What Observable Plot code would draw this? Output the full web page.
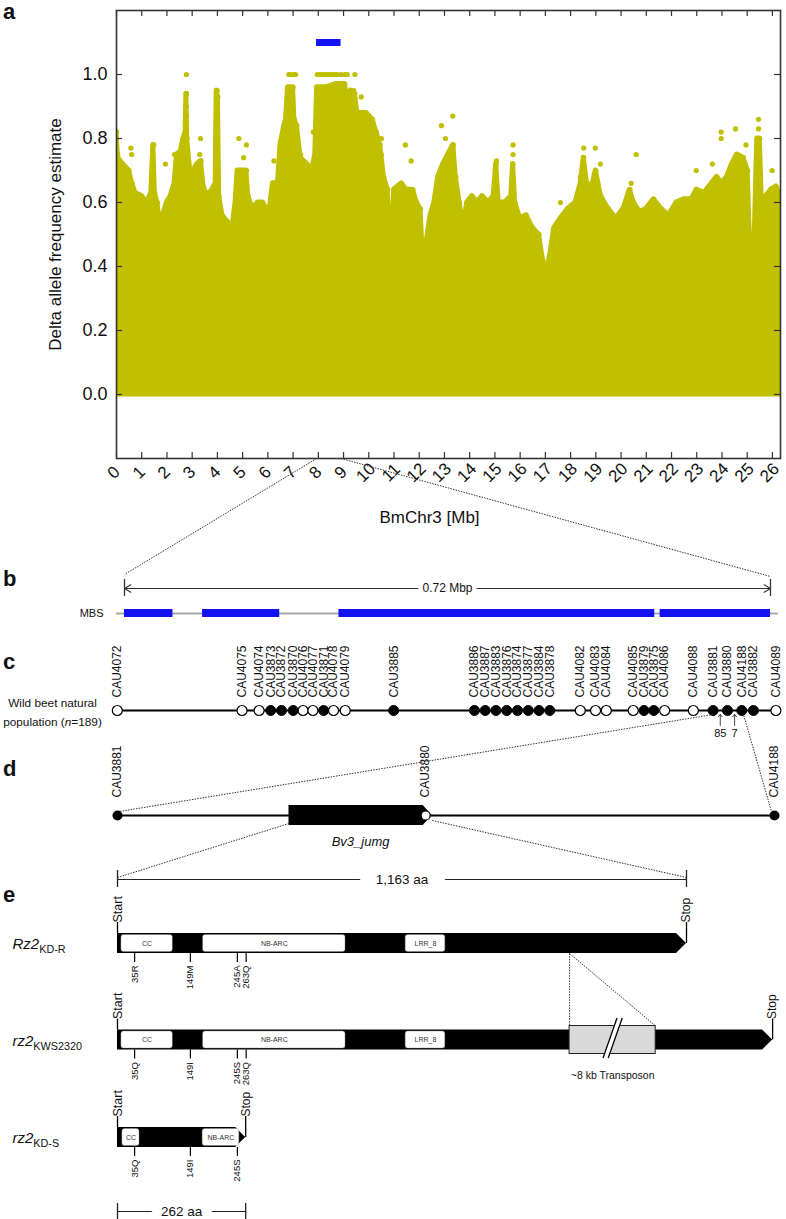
<!DOCTYPE html>
<html><head><meta charset="utf-8">
<script src="https://cdn.jsdelivr.net/npm/d3@7"></script>
<script src="https://cdn.jsdelivr.net/npm/@observablehq/plot@0.6"></script>
<style>
html,body{margin:0;padding:0;background:#fff;}
#fig{position:relative;width:786px;height:1219px;overflow:hidden;font-family:"Liberation Sans",Arial,Helvetica,sans-serif;}
.letter{position:absolute;left:3px;font-weight:bold;font-size:22px;line-height:16px;color:#111;}
</style></head><body><div id="fig"></div>
<script>
// ---------------- DATA ----------------
// Panel a: delta allele frequency along BmChr3
const chrLengthMb = 26.32;
const xTickMb = [0,1,2,3,4,5,6,7,8,9,10,11,12,13,14,15,16,17,18,19,20,21,22,23,24,25,26];
const yTickAF = [0, 0.2, 0.4, 0.6, 0.8, 1.0];
const candidateRegionMb = [7.93, 8.9];
// upper envelope of the dense SNP cloud [Mb, delta AF]
const afEnvelope = [
[0.0,0.82],[0.06,0.74],[0.25,0.72],[0.5,0.70],[0.62,0.66],[0.75,0.63],[1.0,0.62],[1.2,0.60],[1.38,0.63],[1.46,0.78],[1.52,0.63],[1.62,0.60],[1.75,0.52],[1.85,0.56],[2.0,0.60],[2.15,0.62],[2.3,0.66],[2.4,0.75],[2.55,0.76],[2.65,0.80],[2.74,0.82],[2.77,0.94],[2.8,0.80],[2.92,0.70],[3.05,0.70],[3.2,0.72],[3.35,0.73],[3.45,0.65],[3.6,0.62],[3.8,0.64],[3.93,0.66],[3.97,0.95],[4.02,0.93],[4.07,0.62],[4.2,0.56],[4.4,0.54],[4.5,0.46],[4.6,0.52],[4.72,0.60],[4.8,0.70],[5.0,0.70],[5.15,0.70],[5.22,0.62],[5.4,0.58],[5.6,0.60],[5.8,0.60],[5.95,0.58],[6.0,0.44],[6.08,0.58],[6.2,0.66],[6.4,0.66],[6.5,0.78],[6.65,0.84],[6.72,0.86],[6.8,0.96],[7.0,0.96],[7.05,0.86],[7.15,0.84],[7.3,0.74],[7.55,0.72],[7.75,0.70],[7.88,0.75],[7.95,0.96],[8.3,0.96],[8.7,0.97],[9.05,0.97],[9.15,0.93],[9.3,0.95],[9.45,0.94],[9.55,0.88],[9.9,0.88],[10.15,0.86],[10.3,0.82],[10.45,0.78],[10.6,0.68],[10.75,0.64],[10.85,0.50],[10.95,0.45],[11.0,0.64],[11.3,0.66],[11.5,0.64],[11.75,0.64],[11.9,0.60],[12.05,0.58],[12.15,0.42],[12.3,0.48],[12.45,0.56],[12.6,0.60],[12.75,0.68],[12.95,0.72],[13.15,0.75],[13.35,0.78],[13.45,0.68],[13.6,0.60],[13.75,0.52],[13.9,0.60],[14.1,0.62],[14.3,0.60],[14.5,0.62],[14.75,0.60],[14.95,0.62],[15.05,0.72],[15.15,0.60],[15.4,0.60],[15.65,0.62],[15.72,0.72],[15.8,0.60],[16.0,0.55],[16.25,0.56],[16.5,0.52],[16.75,0.50],[16.9,0.42],[17.05,0.38],[17.2,0.44],[17.35,0.52],[17.6,0.55],[17.9,0.58],[18.2,0.60],[18.4,0.66],[18.52,0.74],[18.65,0.66],[18.85,0.65],[19.0,0.70],[19.2,0.62],[19.5,0.58],[19.8,0.55],[20.1,0.58],[20.35,0.64],[20.5,0.60],[20.75,0.57],[21.0,0.58],[21.3,0.61],[21.6,0.58],[21.9,0.56],[22.2,0.60],[22.5,0.61],[22.8,0.61],[23.0,0.64],[23.3,0.63],[23.6,0.66],[23.8,0.68],[24.0,0.66],[24.2,0.68],[24.4,0.72],[24.6,0.75],[24.85,0.74],[25.02,0.70],[25.12,0.45],[25.3,0.50],[25.4,0.80],[25.5,0.80],[25.58,0.60],[25.75,0.62],[25.95,0.64],[26.15,0.65],[26.32,0.62]
];
// isolated SNPs above the cloud [Mb, delta AF]
const afOutliers = [
[0.0,0.82],[0.05,0.75],[0.57,0.77],[0.6,0.75],[1.48,0.78],[1.94,0.72],[2.3,0.75],[2.77,1.0],[2.77,0.94],[2.77,0.9],[2.77,0.87],[3.33,0.8],[3.3,0.75],[3.99,0.95],[3.99,0.92],[4.85,0.8],[5.15,0.78],[5.04,0.74],[6.24,0.73],[6.77,0.9],[6.83,1.0],[6.9,1.0],[7.03,1.0],[7.1,1.0],[7.3,0.75],[7.8,0.82],[7.96,1.0],[8.05,1.0],[8.15,1.0],[8.25,1.0],[8.35,1.0],[8.45,1.0],[8.55,1.0],[8.65,1.0],[8.75,1.0],[8.9,1.0],[9.05,1.0],[9.15,1.0],[9.45,1.0],[9.4,0.95],[9.7,0.93],[10.5,0.8],[10.5,0.75],[11.45,0.78],[11.68,0.73],[12.88,0.84],[13.04,0.8],[13.33,0.87],[15.06,0.73],[15.72,0.78],[15.72,0.75],[17.6,0.6],[18.39,0.68],[18.52,0.77],[18.98,0.77],[19.18,0.72],[20.4,0.66],[20.6,0.75],[22.98,0.7],[23.62,0.72],[23.97,0.82],[23.97,0.8],[24.54,0.83],[24.95,0.78],[25.45,0.86],[25.45,0.83],[25.99,0.7]
];

// Panel b: MBS
const mbsLengthKb = 720;
const mbsBlocksKb = [[0,54],[87,173],[239,591],[597,720]];
const mapSpanKb = [-9, 729];

// Panel c: markers in wild beet population
const markerNames = ["CAU4072","CAU4075","CAU4074","CAU3873","CAU3872","CAU3870","CAU4076","CAU4077","CAU3871","CAU4078","CAU4079","CAU3885","CAU3886","CAU3887","CAU3883","CAU3876","CAU3874","CAU3877","CAU3884","CAU3878","CAU4082","CAU4083","CAU4084","CAU4085","CAU3879","CAU3875","CAU4086","CAU4088","CAU3881","CAU3880","CAU4188","CAU3882","CAU4089"];
const markerPosKb = [-8,131,150,163,175,188,199,210,222,233,246,300,390,402,414,426,438,450,462,474,508,525,537,567,579,590,602,634,656,672,688,701,726];
const markerAssociated = [0,0,0,1,1,1,0,0,1,0,0,1,1,1,1,1,1,1,1,1,0,0,0,0,1,1,0,0,1,1,1,1,0];
const recombCounts = [85, 7];
const recombBetween = [["CAU3881","CAU3880"],["CAU3880","CAU4188"]];
const populationLabel = ["Wild beet natural", "population (*n*=189)"];

// Panel d: interval CAU3881–CAU4188 (relative position)
const intervalMarkers = ["CAU3881","CAU3880","CAU4188"];
const intervalPos = [0, 0.469, 1];
const intervalFilled = [1, 0, 1];
const geneName = "Bv3_jumg";
const geneSpan = [0.261, 0.479];

// Panel e: proteins (aa)
const proteinLabels = ["*Rz2*_{KD-R}", "*rz2*_{KWS2320}", "*rz2*_{KD-S}"];
const proteinLengthAa = [1163, 1163, 262];
const proteinDomains = [
  {row:0, name:"CC", start:8, end:113},{row:0, name:"NB-ARC", start:175, end:466},{row:0, name:"LRR_8", start:589, end:670},
  {row:1, name:"CC", start:8, end:113},{row:1, name:"NB-ARC", start:175, end:466},{row:1, name:"LRR_8", start:589, end:670},
  {row:2, name:"CC", start:10, end:45},{row:2, name:"NB-ARC", start:174, end:249}
];
const variantPosAa = [35, 149, 245, 263];
const variantLabels = [["35R","149M","245A","263Q"],["35Q","149I","245S","263Q"],["35Q","149I","245S"]];
const transposonInsertAa = 924;
const transposonDrawnAa = 176;
const transposonLabel = "~8 kb Transposon";

// ---------------- LAYOUT / STYLE ----------------
const FONT = '"Liberation Sans", Arial, Helvetica, sans-serif';
const OLIVE = "#c0bf00", BLUE = "#1212f2", INK = "#111";
const baseStyle = {fontFamily: FONT, background: "transparent", overflow: "visible"};
const PB_TOP = 545, PD_TOP = 745, PE_TOP = 855;
const LB = {arrow: 43, mbs: 68, labelBase: 152, line: 165, arrowTip: 169, arrowTail: 180, count: 188, pop1: 158, pop2: 177};
const LD = {line: 70, labelBase: 52, geneText: 96};
const LE = {scaleTop: 24, rows: [88, 184.5, 282], scaleBottom: 356};
const E_LEFT = 117, E_RIGHT = 686;

function richText(svg) {
  svg.querySelectorAll("text").forEach(t => {
    const s = t.textContent;
    if (!s.includes("*") && !s.includes("_{")) return;
    t.textContent = "";
    const re = /\*([^*]+)\*|_\{([^}]+)\}|([^*_]+|_)/g;
    let m;
    while ((m = re.exec(s))) {
      const ts = document.createElementNS("http://www.w3.org/2000/svg", "tspan");
      if (m[1] !== undefined) { ts.textContent = m[1]; ts.setAttribute("font-style", "italic"); }
      else if (m[2] !== undefined) { ts.textContent = m[2]; ts.setAttribute("font-size", "72%"); ts.setAttribute("dy", "0.35em"); }
      else ts.textContent = m[3];
      t.appendChild(ts);
    }
  });
}
const fig = document.getElementById("fig");
function place(svg, top, z) {
  svg.style.position = "absolute"; svg.style.left = "0px"; svg.style.top = top + "px";
  if (z) { svg.style.zIndex = z; svg.style.pointerEvents = "none"; }
  richText(svg);
  fig.appendChild(svg);
  return svg;
}

// ---------------- PANEL A ----------------
const PA = Plot.plot({
  width: 786, height: 545, marginTop: 10, marginBottom: 87, marginLeft: 116, marginRight: 6,
  x: {domain: [0, chrLengthMb], axis: null},
  y: {domain: [-0.2, 1.2], axis: null},
  style: baseStyle,
  marks: [
    Plot.areaY(afEnvelope, {x: d => d[0], y1: 0, y2: d => d[1], fill: OLIVE, stroke: OLIVE, strokeWidth: 5, strokeLinejoin: "round", clip: true}),
    Plot.dot(afEnvelope, {x: d => d[0], y: d => d[1], r: 2.6, fill: OLIVE, clip: true}),
    Plot.dot(afOutliers, {x: d => d[0], y: d => d[1], r: 2.6, fill: OLIVE, clip: true}),
    Plot.ruleY([1.1], {x1: candidateRegionMb[0], x2: candidateRegionMb[1], stroke: BLUE, strokeWidth: 7}),
    Plot.frame({stroke: "#333", strokeWidth: 1.6}),
    Plot.tickX(xTickMb, {x: d => d, insetTop: 442, stroke: "#333", strokeWidth: 1.2}),
    Plot.tickX(xTickMb, {x: d => d, insetBottom: 442, stroke: "#333", strokeWidth: 1.2}),
    Plot.tickY(yTickAF, {y: d => d, insetRight: 658, stroke: "#333", strokeWidth: 1.2}),
    Plot.tickY(yTickAF, {y: d => d, insetLeft: 658, stroke: "#333", strokeWidth: 1.2}),
    Plot.text(xTickMb, {x: d => d, frameAnchor: "bottom", dy: 18, dx: 1, rotate: -45, textAnchor: "middle", text: d => String(d), fontSize: 17, fill: INK}),
    Plot.text(yTickAF, {y: d => d, frameAnchor: "left", dx: -9, textAnchor: "end", text: d => d.toFixed(1), fontSize: 18, fill: INK}),
    Plot.text(["Delta allele frequency estimate"], {frameAnchor: "left", dx: -61, rotate: -90, textAnchor: "middle", fontSize: 17, fill: INK}),
    Plot.text(["BmChr3 [Mb]"], {frameAnchor: "bottom", dy: 64, dx: -19, textAnchor: "middle", fontSize: 17, fill: INK})
  ]
});
place(PA, 0);

// ---------------- PANELS B + C ----------------
const posOf = n => markerPosKb[markerNames.indexOf(n)];
const markers = markerNames.map((name, i) => ({name, pos: markerPosKb[i], assoc: markerAssociated[i]}));
const recomb = recombCounts.map((c, i) => ({count: c, x: (posOf(recombBetween[i][0]) + posOf(recombBetween[i][1])) / 2}));
const midKb = mbsLengthKb / 2;
const PB = Plot.plot({
  width: 786, height: 200, marginLeft: 124, marginRight: 16, marginTop: 0, marginBottom: 0,
  x: {domain: [0, mbsLengthKb], axis: null}, y: {type: "identity", axis: null},
  style: baseStyle,
  marks: [
    Plot.ruleY([LB.mbs], {x1: mapSpanKb[0], x2: mapSpanKb[1], stroke: "#a9a9a9", strokeWidth: 2}),
    Plot.rect(mbsBlocksKb, {x1: d => d[0], x2: d => d[1], y1: LB.mbs - 4, y2: LB.mbs + 4, fill: BLUE}),
    Plot.text(["MBS"], {frameAnchor: "left", y: LB.mbs, dx: -21, textAnchor: "end", fontSize: 11, fill: INK}),
    Plot.ruleX([0, mbsLengthKb], {y1: LB.arrow - 9, y2: LB.arrow + 8, stroke: "#333", strokeWidth: 1.3}),
    Plot.arrow([0, mbsLengthKb], {x1: midKb, x2: d => d, y1: LB.arrow, y2: LB.arrow, stroke: "#333", strokeWidth: 1.1, headLength: 10, headAngle: 60}),
    Plot.text([`${(mbsLengthKb / 1000).toFixed(2)} Mbp`], {x: midKb, y: LB.arrow, fontSize: 12, fill: INK, stroke: "white", strokeWidth: 9, paintOrder: "stroke"}),
    Plot.ruleY([LB.line], {x1: markerPosKb[0], x2: markerPosKb[markerPosKb.length - 1], stroke: "black", strokeWidth: 2}),
    Plot.dot(markers.filter(d => !d.assoc), {x: "pos", y: LB.line, r: 5, fill: "white", stroke: "black", strokeWidth: 1.2}),
    Plot.dot(markers.filter(d => d.assoc), {x: "pos", y: LB.line, r: 5, fill: "black", stroke: "black", strokeWidth: 1}),
    Plot.text(markers, {x: "pos", y: LB.labelBase, text: "name", rotate: -90, textAnchor: "start", fontSize: 12, fill: INK}),
    Plot.arrow(recomb, {x1: "x", x2: "x", y1: LB.arrowTail, y2: LB.arrowTip, stroke: "#333", strokeWidth: 0.9, headLength: 5, headAngle: 80}),
    Plot.text(recomb, {x: "x", y: LB.count, text: d => String(d.count), fontSize: 11, fill: INK}),
    Plot.text([populationLabel[0]], {frameAnchor: "left", y: LB.pop1, dx: -72, textAnchor: "middle", fontSize: 11.8, fill: INK}),
    Plot.text([populationLabel[1]], {frameAnchor: "left", y: LB.pop2, dx: -72, textAnchor: "middle", fontSize: 11.8, fill: INK})
  ]
});
place(PB, PB_TOP);

// ---------------- PANEL D ----------------
const dWidthPx = 786 - 117 - 12;
const headFrac = 9 / dWidthPx;
const geneShape = [
  {x: geneSpan[0], y1: LD.line - 10, y2: LD.line + 10},
  {x: geneSpan[1] - headFrac, y1: LD.line - 10, y2: LD.line + 10},
  {x: geneSpan[1], y1: LD.line, y2: LD.line}
];
const dMarkers = intervalMarkers.map((name, i) => ({name, pos: intervalPos[i], filled: intervalFilled[i]}));
const PD = Plot.plot({
  width: 786, height: 110, marginLeft: 117, marginRight: 12, marginTop: 0, marginBottom: 0,
  x: {domain: [0, 1], axis: null}, y: {type: "identity", axis: null},
  style: baseStyle,
  marks: [
    Plot.ruleY([LD.line], {x1: 0, x2: 1, stroke: "black", strokeWidth: 2}),
    Plot.areaY(geneShape, {x: "x", y1: "y1", y2: "y2", fill: "black"}),
    Plot.dot(dMarkers.filter(d => d.filled), {x: "pos", y: LD.line, r: 5, fill: "black"}),
    Plot.dot(dMarkers.filter(d => !d.filled), {x: "pos", y: LD.line, r: 4.5, fill: "white", stroke: "black", strokeWidth: 1.2}),
    Plot.text(dMarkers, {x: "pos", y: LD.labelBase, text: "name", rotate: -90, textAnchor: "start", fontSize: 12, fill: INK}),
    Plot.text([geneName], {x: (geneSpan[0] + geneSpan[1]) / 2, y: LD.geneText, fontSize: 13, fontStyle: "italic", fill: INK})
  ]
});
place(PD, PD_TOP);

// ---------------- PANEL E ----------------
const ePxPerAa = (E_RIGHT - E_LEFT) / proteinLengthAa[0];
const shiftAa = (aa, px) => aa + px / ePxPerAa;
const rowY = LE.rows;
const rowTip = [proteinLengthAa[0], proteinLengthAa[1] + transposonDrawnAa, proteinLengthAa[2]];
const barPts = rowTip.flatMap((tip, r) => [
  {r, x: 0, y1: rowY[r] - 10, y2: rowY[r] + 10},
  {r, x: shiftAa(tip, -10), y1: rowY[r] - 10, y2: rowY[r] + 10},
  {r, x: tip, y1: rowY[r], y2: rowY[r]}
]);
const variants = variantLabels.flatMap((labs, r) => labs.map((label, j) => ({r, pos: variantPosAa[j], label})));
const tStart = transposonInsertAa, tEnd = transposonInsertAa + transposonDrawnAa;
const tMid = (tStart + tEnd) / 2;
const c2 = rowY[1];
const slash = [{x1: shiftAa(tMid, -7), y1: c2 + 18, x2: shiftAa(tMid, 7), y2: c2 - 22}];
const PE = Plot.plot({
  width: 786, height: 364, marginLeft: E_LEFT, marginRight: 786 - E_RIGHT, marginTop: 0, marginBottom: 0,
  x: {domain: [0, proteinLengthAa[0]], axis: null}, y: {type: "identity", axis: null},
  style: baseStyle,
  marks: [
    // scale bar 1,163 aa
    Plot.ruleY([LE.scaleTop], {x1: 0, x2: proteinLengthAa[0], stroke: "#222", strokeWidth: 1.2}),
    Plot.ruleX([0, proteinLengthAa[0]], {y1: LE.scaleTop - 9, y2: LE.scaleTop + 8, stroke: "#222", strokeWidth: 1.3}),
    Plot.text([`${d3.format(",")(proteinLengthAa[0])} aa`], {x: proteinLengthAa[0] / 2, y: LE.scaleTop, fontSize: 13.5, fill: INK, stroke: "white", strokeWidth: 34, paintOrder: "stroke"}),
    // dotted insertion connectors
    Plot.link([{x2: tStart}, {x2: tEnd}], {x1: tStart, y1: rowY[0] + 10, x2: "x2", y2: c2 - 14, stroke: "#333", strokeWidth: 1, strokeDasharray: "1.5,1.2"}),
    // protein bars
    Plot.areaY(barPts, {x: "x", y1: "y1", y2: "y2", z: "r", fill: "black"}),
    Plot.rect(proteinDomains, {x1: "start", x2: "end", y1: d => rowY[d.row] - 8.5, y2: d => rowY[d.row] + 8.5, fill: "white", rx: 2.5, stroke: "#888", strokeWidth: 0.4}),
    Plot.text(proteinDomains, {x: d => (d.start + d.end) / 2, y: d => rowY[d.row], text: "name", fontSize: 7, fill: "#333"}),
    // transposon
    Plot.rect([0], {x1: tStart, x2: tEnd, y1: c2 - 14, y2: c2 + 14, fill: "#d9d9d9", stroke: "#222", strokeWidth: 1}),
    Plot.link(slash, {x1: "x1", y1: "y1", x2: "x2", y2: "y2", stroke: "white", strokeWidth: 6}),
    Plot.link(slash, {x1: "x1", y1: "y1", x2: "x2", y2: "y2", stroke: "black", strokeWidth: 1.3, dx: -2.6}),
    Plot.link(slash, {x1: "x1", y1: "y1", x2: "x2", y2: "y2", stroke: "black", strokeWidth: 1.3, dx: 2.6}),
    Plot.text([transposonLabel], {x: tMid, y: c2 + 36, fontSize: 10.5, fill: INK}),
    // start / stop
    Plot.ruleX(rowY, {x: 0, y1: c => c - 21, y2: c => c - 10, stroke: "black", strokeWidth: 1.3}),
    Plot.text(rowY, {x: 0, y: c => c - 21, text: () => "Start", rotate: -90, textAnchor: "start", fontSize: 12.5, fill: INK}),
    Plot.ruleX(rowTip, {x: d => d, y1: (d, i) => rowY[i] - 21, y2: (d, i) => rowY[i], stroke: "black", strokeWidth: 1.3}),
    Plot.text(rowTip, {x: d => d, y: (d, i) => rowY[i] - 21, text: () => "Stop", rotate: -90, textAnchor: "start", fontSize: 12, fill: INK}),
    // variants
    Plot.ruleX(variants, {x: "pos", y1: d => rowY[d.r] + 10, y2: d => rowY[d.r] + 19, stroke: "black", strokeWidth: 1.2}),
    Plot.text(variants, {x: "pos", y: d => rowY[d.r] + 22, text: "label", rotate: -90, textAnchor: "end", fontSize: 9.5, fill: INK}),
    // row labels
    Plot.text(proteinLabels, {frameAnchor: "left", y: (d, i) => rowY[i] + 1, dx: -105, textAnchor: "start", fontSize: 15, fill: INK}),
    // scale bar 262 aa
    Plot.ruleY([LE.scaleBottom], {x1: 0, x2: proteinLengthAa[2], stroke: "#222", strokeWidth: 1.2}),
    Plot.ruleX([0, proteinLengthAa[2]], {y1: LE.scaleBottom - 8, y2: LE.scaleBottom + 10, stroke: "#222", strokeWidth: 1.3}),
    Plot.text([`${proteinLengthAa[2]} aa`], {x: proteinLengthAa[2] / 2, y: LE.scaleBottom, fontSize: 13.5, fill: INK, stroke: "white", strokeWidth: 20, paintOrder: "stroke"})
  ]
});
place(PE, PE_TOP);

// ---------------- CONNECTORS (overlay) ----------------
const ax = PA.scale("x"), ay = PA.scale("y"), bx = PB.scale("x"), dxs = PD.scale("x"), ex = PE.scale("x");
const yBottomA = ay.apply(ay.domain[0]);
const connectors = [
  {x1: ax.apply(candidateRegionMb[0]), y1: yBottomA, x2: bx.apply(0), y2: PB_TOP + LB.arrow - 14},
  {x1: ax.apply(candidateRegionMb[1]), y1: yBottomA, x2: bx.apply(mbsLengthKb), y2: PB_TOP + LB.arrow - 12},
  {x1: bx.apply(posOf(intervalMarkers[0])), y1: PB_TOP + LB.line + 4, x2: dxs.apply(0) + 2, y2: PD_TOP + LD.line - 4},
  {x1: bx.apply(posOf(intervalMarkers[2])) + 2, y1: PB_TOP + LB.line + 5, x2: dxs.apply(1) - 3, y2: PD_TOP + LD.line - 4},
  {x1: dxs.apply(geneSpan[0]), y1: PD_TOP + LD.line + 8, x2: ex.apply(0), y2: PE_TOP + LE.scaleTop - 2},
  {x1: dxs.apply(geneSpan[1]), y1: PD_TOP + LD.line + 5, x2: ex.apply(proteinLengthAa[0]), y2: PE_TOP + LE.scaleTop - 2}
];
const OV = Plot.plot({
  width: 786, height: 1219, margin: 0,
  x: {type: "identity", axis: null}, y: {type: "identity", axis: null},
  style: baseStyle,
  marks: [
    Plot.link(connectors, {x1: "x1", y1: "y1", x2: "x2", y2: "y2", stroke: "#333", strokeWidth: 1, strokeDasharray: "1.5,1.2"})
  ]
});
place(OV, 0, 5);

// panel letters
const panelLetters = ["a", "b", "c", "d", "e"];
const letterTop = [4.4, 571.4, 654.4, 761.4, 887.4];
panelLetters.forEach((l, i) => {
  const div = document.createElement("div");
  div.className = "letter"; div.textContent = l; div.style.top = letterTop[i] + "px";
  fig.appendChild(div);
});
</script></body></html>
